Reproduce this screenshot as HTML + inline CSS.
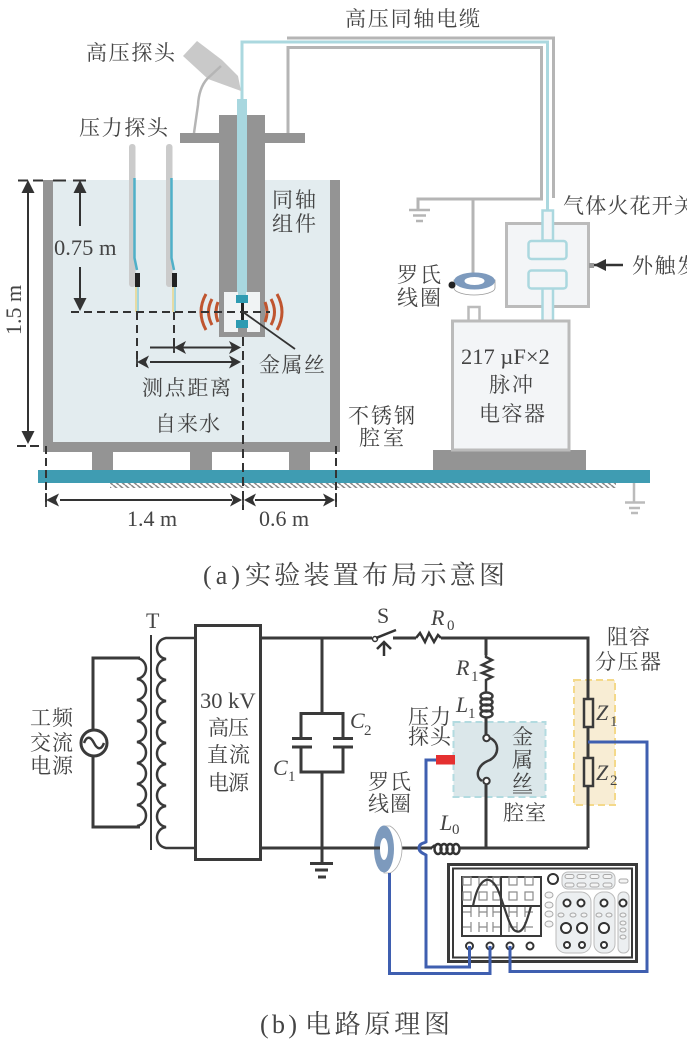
<!DOCTYPE html>
<html><head><meta charset="utf-8"><style>
html,body{margin:0;padding:0;background:#fff}
svg{display:block}
text{font-family:"Liberation Serif","Noto Serif CJK SC",serif;fill:#444}
.c{font-size:21px}
.l{font-size:22px}
.i{font-size:22px;font-style:italic}
.s{font-size:15px}
</style></head><body>
<svg width="687" height="1041" viewBox="0 0 687 1041" xmlns="http://www.w3.org/2000/svg">
<defs>
<pattern id="h" width="6" height="5" patternUnits="userSpaceOnUse"><path d="M-1 0L5 5M5 0L6 1" stroke="#8a8a8a" stroke-width="1.600"/></pattern>
</defs>
<!-- Tank -->
<rect x="53" y="180" width="277" height="262" fill="#e3ecef"/>
<path d="M43 180H53V442H330V180H340V452H43Z" fill="#949494"/>
<rect x="92" y="452" width="21" height="18" fill="#949494"/>
<rect x="190" y="452" width="22" height="18" fill="#949494"/>
<rect x="289" y="452" width="21" height="18" fill="#949494"/>
<rect x="433" y="450" width="153" height="20" fill="#949494"/>
<rect x="38" y="470" width="612" height="13" fill="#3f9cb2"/>
<rect x="110" y="483" width="506" height="5" fill="url(#h)"/>
<!-- Cables -->
<g fill="none" stroke-width="3">
<path d="M287 38H553.500V198" stroke="#b5b5b5"/>
<path d="M288 133V47.500H541.500V199H418V210M473 199V273" stroke="#b5b5b5"/>
<path d="M242 99V42H547.500V212" stroke="#abd8df"/>
</g>
<path d="M409 210H430M413 215.500H426M416 221H423" stroke="#b5b5b5" stroke-width="2.500"/>
<!-- HV probe -->
<path d="M197 41L183 56L208 79L241 91L238 76L222 60Z" fill="#c9c9c9"/>
<path d="M221 66L207 79Q199 88 198 105L194 133" fill="none" stroke="#b5b5b5" stroke-width="2.500"/>
<!-- Coax -->
<rect x="180" y="133" width="125" height="10" fill="#949494"/>
<rect x="219" y="115" width="46" height="222" fill="#949494"/>
<rect x="224" y="292" width="36" height="40" fill="#f0f3f4"/>
<rect x="237" y="99" width="10" height="193" fill="#a8d7df"/>
<rect x="238" y="292" width="8" height="4" fill="#a8d7df"/>
<rect x="238" y="327" width="9" height="5" fill="#949494"/>
<rect x="236" y="295" width="12" height="8" fill="#2e9bb2"/>
<rect x="236" y="320" width="12" height="8" fill="#2e9bb2"/>
<rect x="241" y="303" width="3" height="17" fill="#222"/>
<!-- waves -->
<g fill="none" stroke="#c0552f" stroke-width="3">
<path d="M206 294Q196 312 206 330M212 299Q205 312 212 325M218 302Q214 312 218 322"/>
<path d="M277 294Q287 312 277 330M271 299Q278 312 271 325M265 302Q269 312 265 322"/>
</g>
<!-- Pressure probes -->
<rect x="129" y="144" width="6.500" height="143" rx="3" fill="#cbcbcb"/>
<rect x="166" y="144" width="6.500" height="143" rx="3" fill="#cbcbcb"/>
<path d="M134.500 178V258L137 270M171.500 178V258L174 270" fill="none" stroke="#4fb0c8" stroke-width="2.500"/>
<rect x="135" y="273" width="5" height="14" fill="#222"/>
<rect x="172" y="273" width="5" height="14" fill="#222"/>
<path d="M136 287V312M173 287V312" stroke="#e8d27a" stroke-width="1.300"/>
<path d="M138 287V312M175 287V312" stroke="#7fc9d8" stroke-width="1.300"/>
<!-- dims -->
<g stroke="#333" stroke-width="2" fill="none">
<path d="M18 180.500H43" stroke-dasharray="10 5"/>
<path d="M53 180.500H90" stroke-dasharray="13 7"/>
<path d="M17 446H43" stroke-dasharray="9 4"/>
<path d="M71 312H270" stroke-dasharray="8 5"/>
<path d="M137 312V367M174 312V352" stroke-dasharray="8 5"/>
<path d="M243 337V510" stroke-dasharray="9 5"/>
<path d="M46 446V506M336 446V506" stroke-dasharray="8 4"/>
<path d="M28 190V436M80 190V226M80 267V302"/>
<path d="M150 347.500H232M150 362H232M60 500H232M255 500H326"/>
<path d="M243 312L295 349" stroke-width="1.800"/>
<path d="M137 352V367M174 341V353M46 493V507M243 493V507M336 493V507" stroke-width="1.800"/>
<path d="M594 265H623" stroke-width="2.500"/>
</g>
<g fill="#333">
<path d="M28 180L21.500 193H34.500ZM28 444L21.500 431H34.500ZM80 180L73.500 193H86.500ZM80 311L73.500 298H86.500Z"/>
<path d="M174 347.500L186 341L183 347.500L186 354ZM241 347.500L229 341L232 347.500L229 354ZM137 362L149 355.500L146 362L149 368.500ZM241 362L229 355.500L232 362L229 368.500Z"/>
<path d="M46 500L59 493.500L56 500L59 506.500ZM242 500L230 493.500L233 500L230 506.500ZM244 500L256 493.500L253 500L256 506.500ZM335 500L323 493.500L326 500L323 506.500Z"/>
<path d="M594 265L606 259V271Z"/>
</g>
<!-- Switch -->
<rect x="506.500" y="223.500" width="82" height="83" fill="#f3f5f7" stroke="#bbb" stroke-width="3"/>
<rect x="589" y="263" width="5" height="5" fill="#999"/>
<g fill="#f3f5f7" stroke="#abd8df" stroke-width="2.500">
<rect x="542.500" y="210.500" width="10.500" height="30"/>
<rect x="542.500" y="288" width="10.500" height="33"/>
<rect x="528.500" y="241" width="38" height="18" rx="3"/>
<rect x="528.500" y="270.500" width="38" height="18" rx="3"/>
</g>
<!-- Capacitor -->
<rect x="468.500" y="307" width="11" height="14" fill="#fff" stroke="#bbb" stroke-width="2.500"/>
<rect x="452.500" y="321" width="116.500" height="129" fill="#f3f5f7" stroke="#bbb" stroke-width="3"/>
<!-- Ring -->
<path d="M454 280V288C454 292 464 295 474 295C485 295 495 292 495 288V280Z" fill="#fff" stroke="#999" stroke-width="0.800"/>
<ellipse cx="474.500" cy="281" rx="20.500" ry="8.500" fill="#7d9abd"/>
<ellipse cx="474.500" cy="281" rx="10" ry="4" fill="#fff"/>
<circle cx="452" cy="285" r="3.500" fill="#222"/>
<!-- ground right -->
<path d="M634 483V502M625 502.500H645M629 508H640M631 513H638" stroke="#bbb" stroke-width="2.500" fill="none"/>
<!-- labels a -->
<text x="345" y="26" class="c" textLength="135">高压同轴电缆</text>
<text x="86" y="60" class="c" textLength="89">高压探头</text>
<text x="79" y="135" class="c" textLength="89">压力探头</text>
<text x="272" y="207" class="c" textLength="44">同轴</text>
<text x="272" y="231" class="c" textLength="44">组件</text>
<text x="54" y="255" font-size="22.500">0.75 m</text>
<text transform="translate(21,335) rotate(-90)" class="l">1.5 m</text>
<text x="142" y="395" class="c" textLength="89">测点距离</text>
<text x="155" y="431" class="c" textLength="65">自来水</text>
<text x="259" y="372" class="c" textLength="66">金属丝</text>
<text x="348" y="423" class="c" textLength="67">不锈钢</text>
<text x="359" y="445" class="c" textLength="45">腔室</text>
<text x="397" y="282" class="c" textLength="44">罗氏</text>
<text x="397" y="305" class="c" textLength="44">线圈</text>
<text x="461" y="364" font-size="22.500">217 µF×2</text>
<text x="489" y="392" class="c" textLength="44">脉冲</text>
<text x="479" y="421" class="c" textLength="66">电容器</text>
<text x="563" y="213" class="c" textLength="132">气体火花开关</text>
<text x="632" y="273" class="c" textLength="66">外触发</text>
<text x="127" y="526" class="l">1.4 m</text>
<text x="259" y="526" class="l">0.6 m</text>
<text x="203" y="584" font-size="26" textLength="37">(a)</text>
<text x="245" y="584" font-size="26" textLength="260">实验装置布局示意图</text>
<!-- Circuit -->
<g fill="none" stroke="#3a3a3a" stroke-width="3">
<rect x="195.500" y="625.500" width="65" height="234"/>
<path d="M140 658H93V730M93 756V827H140"/>
<path d="M137 658c12 2 12 19 0 21c12 2 12 19 0 21c12 2 12 19 0 21c12 2 12 19 0 21c12 2 12 19 0 21c12 2 12 19 0 21c12 2 12 19 0 21c12 2 12 19 0 21" stroke-width="2.500"/>
<path d="M195 638H166c-12 2-12 19 0 21c-12 2-12 19 0 21c-12 2-12 19 0 21c-12 2-12 19 0 21c-12 2-12 19 0 21c-12 2-12 19 0 21c-12 2-12 19 0 21c-12 2-12 19 0 21c-12 2-12 19 0 21c-12 2-12 19 0 21H195" stroke-width="2.500"/>
<path d="M151 635V850" stroke-width="2"/>
<circle cx="94" cy="743" r="13"/>
<path d="M84 743C87 735 91 737 94 743C97 749 101 751 104 743" stroke-width="2.500"/>
<path d="M260 638H372M393 638H416M441 638H588V848M260 848H376M400 848H432M460 848H588"/>
<path d="M322 638V713M301 738V713.500H343V738M301 747V772H343V747M322 772V863"/>
<path d="M292 738.500H312M292 747H312M333 738.500H353M333 747H353M310 863.500H333M315 870H328M318 877H326"/>
</g>
<!-- chambers -->
<rect x="453.500" y="722" width="92" height="75" fill="#dbe7ea" stroke="#b3dbe0" stroke-width="2" stroke-dasharray="7 4"/>
<rect x="574" y="680" width="41" height="125" fill="#f8edd4" stroke="#f4d98a" stroke-width="2" stroke-dasharray="7 4"/>
<g fill="none" stroke="#3a3a3a" stroke-width="3">
<path d="M486 638V655"/>
<path d="M486 655V657L492 660L482 665L492 669L482 673L492 677L486 680V692" stroke-width="2.500"/>
<g stroke-width="2.500">
<ellipse cx="486.500" cy="696" rx="6" ry="3.500"/>
<ellipse cx="486.500" cy="702" rx="6" ry="3.500"/>
<ellipse cx="486.500" cy="708" rx="6" ry="3.500"/>
<ellipse cx="486.500" cy="714" rx="6" ry="3.500"/>
</g>
<path d="M486 717V734M486 785V848"/>
<path d="M490 738C499 742 500 754 490 760C478 764 474 776 482 781" stroke-width="2.500"/>
<path d="M588 638V848"/>
</g>
<circle cx="486.500" cy="738" r="3.200" fill="#fff" stroke="#3a3a3a" stroke-width="2"/>
<circle cx="486.500" cy="781" r="3.200" fill="#fff" stroke="#3a3a3a" stroke-width="2"/>
<rect x="584" y="699" width="9" height="28" fill="#f8edd4" stroke="#3a3a3a" stroke-width="2.500"/>
<rect x="584" y="758" width="9" height="28" fill="#f8edd4" stroke="#3a3a3a" stroke-width="2.500"/>
<!-- S R0 -->
<circle cx="375" cy="639" r="2.500" fill="#fff" stroke="#333" stroke-width="1.500"/>
<g fill="none" stroke="#333" stroke-width="2.500">
<path d="M376 638L396 630"/>
<path d="M384 656V642M377 649L384 642L391 649"/>
<path d="M416 638L420 633L425 642L429 633L434 642L438 635L441 638"/>
</g>
<!-- L0 -->
<g fill="none" stroke="#333" stroke-width="2.500">
<path d="M431 848Q434 846 435 845"/>
<ellipse cx="438" cy="849" rx="3.500" ry="5"/>
<ellipse cx="444" cy="849" rx="3.500" ry="5"/>
<ellipse cx="450" cy="849" rx="3.500" ry="5"/>
<ellipse cx="456" cy="849" rx="3.500" ry="5"/>
</g>
<!-- Rogowski -->
<path d="M384 826H390C397 830 402 840 402 849C402 860 397 870 390 873H384Z" fill="#fff" stroke="#aaa" stroke-width="0.800"/>
<ellipse cx="384" cy="849" rx="10" ry="23.500" fill="#7d9abd"/>
<ellipse cx="384" cy="849" rx="4" ry="11" fill="#fff"/>
<path d="M374 848H380" stroke="#3a3a3a" stroke-width="3"/>
<!-- Scope -->
<rect x="448.500" y="864.500" width="188" height="97" fill="#fff" stroke="#3a3a3a" stroke-width="3"/>
<rect x="453" y="868.500" width="179" height="89" fill="#fff" stroke="#3a3a3a" stroke-width="2"/>
<rect x="462" y="877" width="79" height="59" fill="#fff" stroke="#3a3a3a" stroke-width="2"/>
<g fill="none" stroke="#8a8a8a" stroke-width="1.200">
<rect x="463" y="877" width="8" height="8"/><rect x="479" y="877" width="8" height="8"/><rect x="493" y="877" width="7" height="8"/><rect x="509" y="877" width="8" height="8"/><rect x="525" y="877" width="8" height="8"/>
<rect x="463" y="892" width="8" height="8"/><rect x="479" y="892" width="8" height="8"/><rect x="493" y="892" width="7" height="8"/><rect x="509" y="892" width="8" height="8"/><rect x="525" y="892" width="8" height="8"/>
<path d="M463 912H471M471 907V917M479 907V917M487 907V917M479 912H487M493 907V917M493 912H500M509 907V917M517 907V917M509 912H517M525 907V917M525 912H533"/>
<path d="M463 927H471M471 922V932M479 922V932M487 922V932M479 927H487M493 922V932M493 927H500M509 922V932M517 922V932M509 927H517M525 922V932M525 927H533"/>
</g>
<path d="M501 877V936M462 906H541" stroke="#3a3a3a" stroke-width="2"/>
<path d="M473 906C478 880 488 872 497 888C503 900 508 924 514 930C522 936 526 925 531 906" fill="none" stroke="#3a3a3a" stroke-width="2.200"/>
<circle cx="553" cy="879" r="5" fill="#fff" stroke="#333" stroke-width="2"/>
<rect x="562" y="872" width="53" height="17" rx="6" fill="#eceff1" stroke="#bbb"/>
<g fill="#f4f4f4" stroke="#aaa" stroke-width="1">
<rect x="565" y="874.500" width="9" height="4" rx="2"/><rect x="577" y="874.500" width="9" height="4" rx="2"/><rect x="590" y="874.500" width="9" height="4" rx="2"/><rect x="603" y="874.500" width="9" height="4" rx="2"/>
<rect x="565" y="883" width="9" height="4" rx="2"/><rect x="577" y="883" width="9" height="4" rx="2"/><rect x="590" y="883" width="9" height="4" rx="2"/><rect x="603" y="883" width="9" height="4" rx="2"/>
<rect x="619" y="879" width="9" height="4" rx="2"/>
<ellipse cx="549" cy="895" rx="4" ry="3"/><ellipse cx="549" cy="905" rx="4" ry="3"/><ellipse cx="549" cy="914" rx="4" ry="3"/><ellipse cx="549" cy="924" rx="4" ry="3"/>
</g>
<rect x="556" y="892" width="35" height="61" rx="10" fill="#eceff1" stroke="#bbb"/>
<rect x="594" y="892" width="21" height="61" rx="9" fill="#eceff1" stroke="#bbb"/>
<rect x="618" y="892" width="11" height="61" rx="5" fill="#eceff1" stroke="#bbb"/>
<g fill="#fff" stroke="#333" stroke-width="2">
<circle cx="567" cy="903" r="3.500"/><circle cx="581" cy="903" r="3.500"/><circle cx="604" cy="903" r="3.500"/><circle cx="623" cy="903" r="3.500"/>
<circle cx="566" cy="928" r="5"/><circle cx="582" cy="928" r="5"/><circle cx="604" cy="928" r="5"/>
<circle cx="567" cy="945" r="3"/><circle cx="582" cy="945" r="3"/><circle cx="604" cy="945" r="3"/>
<circle cx="469.500" cy="946" r="3.500"/><circle cx="490" cy="946" r="3.500"/><circle cx="510" cy="946" r="3.500"/><circle cx="530" cy="946" r="3.500"/>
</g>
<g fill="#f4f4f4" stroke="#aaa" stroke-width="1">
<ellipse cx="561" cy="915" rx="3" ry="2"/><ellipse cx="573" cy="915" rx="3" ry="2"/><ellipse cx="584" cy="915" rx="3" ry="2"/><ellipse cx="599" cy="915" rx="3" ry="2"/><ellipse cx="609" cy="915" rx="3" ry="2"/>
<ellipse cx="623" cy="915" rx="3" ry="2"/><ellipse cx="623" cy="923" rx="3" ry="2"/><ellipse cx="623" cy="930" rx="3" ry="2"/><ellipse cx="623" cy="937" rx="3" ry="2"/>
</g>
<!-- Blue -->
<g fill="none" stroke="#3f5fb0" stroke-width="3">
<path d="M588 742H647V971.500H510V946"/>
<path d="M438 760H426V842C425 843 419 843 419 848C419 853 425 854 426 855V967H469.500V946"/>
<path d="M389.500 873V973.500H490V946"/>
</g>
<rect x="436" y="755" width="19" height="9.500" fill="#e53030"/>
<!-- labels b -->
<text x="146" y="628" class="l">T</text>
<text x="30" y="725" class="c" textLength="43">工频</text>
<text x="30" y="750" class="c" textLength="43">交流</text>
<text x="30" y="773" class="c" textLength="43">电源</text>
<text x="200" y="708" font-size="22.500">30 kV</text>
<text x="208" y="735" class="c" textLength="41">高压</text>
<text x="207" y="762" class="c" textLength="43">直流</text>
<text x="208" y="790" class="c" textLength="41">电源</text>
<text x="273" y="775" class="i">C</text><text x="288" y="781" class="s">1</text>
<text x="350" y="728" class="i">C</text><text x="364" y="735" class="s">2</text>
<text x="377" y="623" class="l">S</text>
<text x="431" y="625" class="i">R</text><text x="447" y="630" class="s">0</text>
<text x="456" y="675" class="i">R</text><text x="471" y="681" class="s">1</text>
<text x="456" y="712" class="i">L</text><text x="468" y="718" class="s">1</text>
<text x="408" y="724" class="c" textLength="43">压力</text>
<text x="408" y="744" class="c" textLength="43">探头</text>
<text x="512" y="744" class="c">金</text>
<text x="512" y="767" class="c">属</text>
<text x="512" y="790" class="c">丝</text>
<path d="M513 793H532" stroke="#555" stroke-width="1"/>
<text x="503" y="820" class="c" textLength="43">腔室</text>
<text x="368" y="789" class="c" textLength="43">罗氏</text>
<text x="368" y="811" class="c" textLength="43">线圈</text>
<text x="440" y="830" class="i">L</text><text x="452" y="834" class="s">0</text>
<text x="607" y="644" class="c" textLength="43">阻容</text>
<text x="595" y="669" class="c" textLength="66">分压器</text>
<text x="596" y="720" class="i">Z</text><text x="610" y="726" class="s">1</text>
<text x="596" y="780" class="i">Z</text><text x="610" y="785" class="s">2</text>
<text x="260" y="1033" font-size="26" textLength="37">(b)</text>
<text x="305" y="1033" font-size="26" textLength="145">电路原理图</text>
</svg>
</body></html>
